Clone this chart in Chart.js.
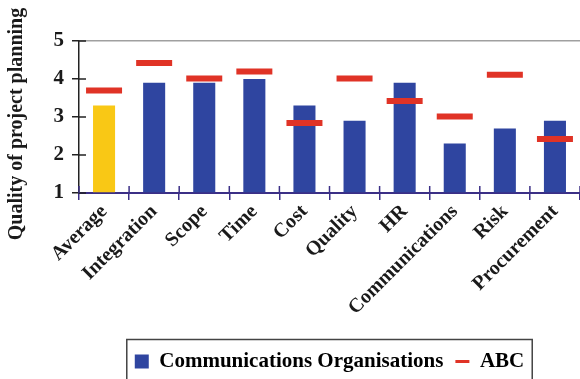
<!DOCTYPE html>
<html><head><meta charset="utf-8">
<script src="https://cdn.jsdelivr.net/npm/chart.js@4"></script>
<style>html,body{margin:0;padding:0;background:#fff}#wrap{width:580px;height:379px;position:relative}</style>
</head><body><div id="wrap"><canvas id="c"></canvas></div>
<script>
// Categories and values
const categories = ['Average','Integration','Scope','Time','Cost','Quality','HR','Communications','Risk','Procurement'];
const commOrgs = [3.3, 3.9, 3.9, 4.0, 3.3, 2.9, 3.9, 2.3, 2.7, 2.9];
const abc = [3.7, 4.42, 4.01, 4.2, 2.84, 4.01, 3.42, 3.01, 4.11, 2.42];
const yTicks = [1, 2, 3, 4, 5];
const yTitle = 'Quality of project planning';

const FONT = "'Liberation Serif', 'Times New Roman', serif";
const BLUE = '#2f45a0', YELLOW = '#f9c815', RED = '#e03326', NAVY = '#3b2f86';

// short tick stubs drawn on the inside of both axes
const innerTicks = {
  id: 'innerTicks',
  afterDatasetsDraw(chart) {
    const {ctx, scales: {x, y}} = chart;
    ctx.save();
    ctx.lineWidth = 1.5;
    ctx.strokeStyle = '#222';
    yTicks.forEach(v => {
      const py = y.getPixelForValue(v);
      ctx.beginPath(); ctx.moveTo(x.left, py); ctx.lineTo(x.left + 7, py); ctx.stroke();
    });
    ctx.strokeStyle = NAVY;
    for (let i = 0; i <= categories.length; i++) {
      const px = x.getPixelForValue(i - 0.5);
      ctx.beginPath(); ctx.moveTo(px, y.bottom); ctx.lineTo(px, y.bottom - 7); ctx.stroke();
    }
    ctx.restore();
  }
};

// vertical axis title, centred a little below the plot middle
const yAxisTitle = {
  id: 'yAxisTitle',
  afterDraw(chart) {
    const {ctx, scales: {y}} = chart;
    ctx.save();
    ctx.translate(17, (y.top + y.bottom) / 2 + 7);
    ctx.rotate(-Math.PI / 2);
    ctx.font = "bold 20px " + FONT;
    ctx.fillStyle = '#1a1a1a';
    ctx.textAlign = 'center';
    ctx.textBaseline = 'middle';
    ctx.fillText(yTitle, 0, 0);
    ctx.restore();
  }
};

// frame around the legend
const legendFrame = {
  id: 'legendFrame',
  afterDraw(chart) {
    const lg = chart.legend;
    if (!lg || !lg.legendHitBoxes || !lg.legendHitBoxes.length) return;
    const hb = lg.legendHitBoxes;
    const left = Math.min(...hb.map(b => b.left)) - 8;
    const right = Math.max(...hb.map(b => b.left + b.width)) + 8;
    const {ctx} = chart;
    ctx.save();
    ctx.strokeStyle = '#444';
    ctx.lineWidth = 1.5;
    ctx.strokeRect(left, lg.top + 0.5, right - left, chart.height - lg.top + 8);
    ctx.restore();
  }
};

new Chart(document.getElementById('c'), {
  data: {
    labels: categories,
    datasets: [
      {
        type: 'line',
        label: 'ABC',
        data: abc,
        showLine: false,
        pointStyle: 'line',
        pointRadius: 18,
        pointHoverRadius: 18,
        pointBorderWidth: 6,
        pointBorderColor: RED,
        borderColor: RED,
        backgroundColor: RED,
        order: 0
      },
      {
        type: 'bar',
        label: 'Communications Organisations',
        data: commOrgs,
        base: 1,
        backgroundColor: categories.map((c, i) => i === 0 ? YELLOW : BLUE),
        barPercentage: 0.44,
        categoryPercentage: 1,
        order: 1
      }
    ]
  },
  options: {
    responsive: true,
    maintainAspectRatio: false,
    animation: false,
    layout: {autoPadding: false, padding: {top: 41, right: 0, left: 0, bottom: -3}},
    plugins: {
      tooltip: {enabled: false},
      legend: {
        position: 'bottom',
        fullSize: false,
        labels: {
          usePointStyle: true,
          boxWidth: 14,
          boxHeight: 14,
          pointStyleWidth: 14,
          padding: 12,
          color: '#1a1a1a',
          font: {family: FONT, size: 21, weight: 'bold'},
          generateLabels(chart) {
            return [
              {text: 'Communications Organisations', fillStyle: BLUE, strokeStyle: BLUE, lineWidth: 0, pointStyle: 'rect', datasetIndex: 1, hidden: false},
              {text: 'ABC', fillStyle: RED, strokeStyle: RED, lineWidth: 3, pointStyle: 'line', datasetIndex: 0, hidden: false}
            ];
          }
        }
      }
    },
    scales: {
      x: {
        offset: true,
        grid: {offset: true, drawOnChartArea: false, color: NAVY, tickLength: 7, lineWidth: 1.5},
        border: {color: NAVY, width: 2},
        ticks: {
          minRotation: 45, maxRotation: 45, padding: 0,
          color: '#1a1a1a',
          font: {family: FONT, size: 20, weight: 'bold'}
        },
        afterFit(scale) {
          scale.height = 146;
          scale.paddingLeft = 0;
          scale.paddingRight = 0;
        }
      },
      y: {
        min: 1, max: 5,
        afterBuildTicks(scale) { scale.ticks = yTicks.map(v => ({value: v})); },
        grid: {
          color: ctx => (ctx.tick && ctx.tick.value === 5) ? '#a0a0a0' : 'rgba(0,0,0,0)',
          tickColor: '#222',
          tickLength: 7,
          lineWidth: 1.5
        },
        border: {color: '#222', width: 1.5},
        ticks: {
          padding: 8,
          color: '#1a1a1a',
          font: {family: FONT, size: 21, weight: 'bold'}
        },
        afterFit(scale) {
          scale.width = 79;
          scale.paddingTop = 0;
          scale.paddingBottom = 0;
        }
      }
    }
  },
  plugins: [innerTicks, yAxisTitle, legendFrame]
});
</script>
</body></html>
